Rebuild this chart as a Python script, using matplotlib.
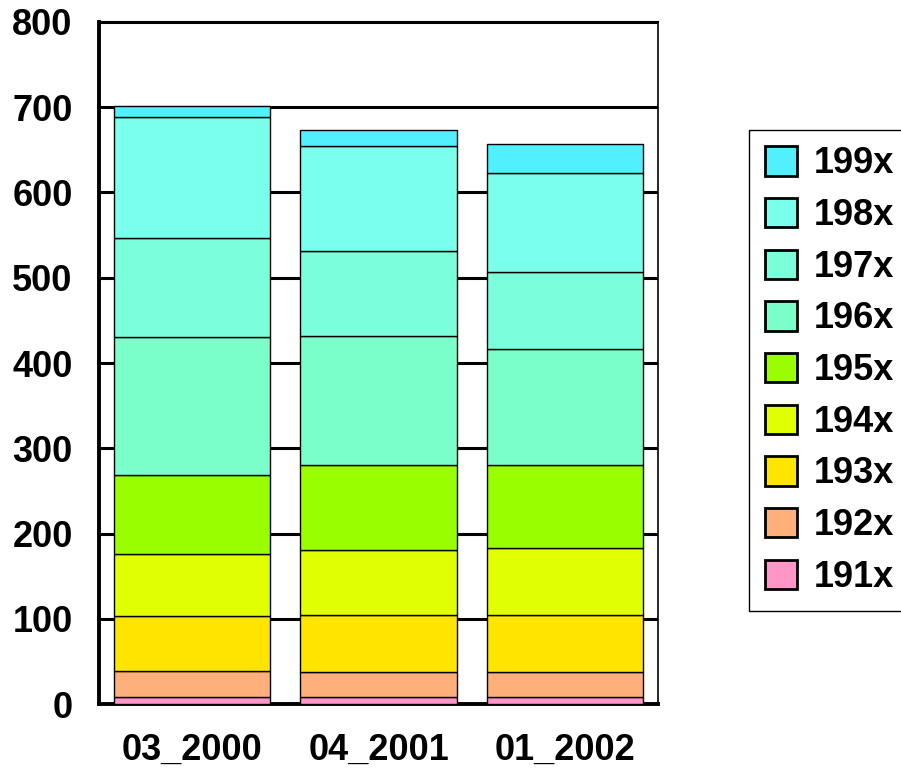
import numpy as np
import matplotlib.pyplot as plt

# survey periods and age groups (decades)
periods = ['03_2000', '04_2001', '01_2002']
groups = ['191x', '192x', '193x', '194x', '195x', '196x', '197x', '198x', '199x']

# values per group, one entry per period
v191 = [8, 8, 8]
v192 = [31, 30, 29]
v193 = [64, 67, 67]
v194 = [73, 76, 79]
v195 = [93, 99, 97]
v196 = [162, 152, 137]
v197 = [116, 99, 90]
v198 = [141, 123, 116]
v199 = [13, 19, 34]

colors = ['#FF96C8', '#FFB07A', '#FFE400', '#E0FF00', '#99FF00',
          '#7AFFCA', '#7AFFDA', '#7AFFEC', '#52F0FF']

plt.rcParams['font.family'] = ['Liberation Sans', 'DejaVu Sans']
plt.rcParams['font.weight'] = 'bold'

fig = plt.figure(figsize=(9.01, 7.69), dpi=100)
ax = fig.add_axes([0.1099, 0.0845, 0.6204, 0.8869])

series = [v191, v192, v193, v194, v195, v196, v197, v198, v199]
x = np.arange(len(periods))
bottom = np.zeros(len(periods))
handles = []
for name, vals, col in zip(groups, series, colors):
    b = ax.bar(x, vals, width=0.84, bottom=bottom, color=col,
               edgecolor='black', linewidth=1, label=name, zorder=3)
    handles.append(b)
    bottom += np.array(vals)

ax.set_xlim(-0.5, 2.5)
ax.set_ylim(0, 800)
ax.set_yticks(range(0, 801, 100))
ax.set_xticks(x)
ax.set_xticklabels(periods)
ax.yaxis.grid(True, color='black', linewidth=2.2, zorder=0)
ax.tick_params(axis='both', length=0, labelsize=26)
ax.tick_params(axis='y', pad=19)
ax.tick_params(axis='x', pad=21)
for lab in ax.get_xticklabels() + ax.get_yticklabels():
    lab.set_fontweight('bold')

ax.spines['left'].set_linewidth(2.8)
ax.spines['bottom'].set_linewidth(2.8)
ax.spines['top'].set_linewidth(1.5)
ax.spines['right'].set_linewidth(1.2)

leg = fig.legend(handles[::-1], groups[::-1], loc='upper left',
                 bbox_to_anchor=(749 / 901, 1 - 130 / 769),
                 prop={'size': 26, 'weight': 'bold'},
                 handlelength=0.88, handleheight=0.88, handletextpad=0.45,
                 labelspacing=0.455, borderpad=0.45, borderaxespad=0,
                 fancybox=False, edgecolor='black', framealpha=1)
leg.get_frame().set_linewidth(1)
for p in leg.get_patches():
    p.set_linewidth(2)

fig.savefig('out.png', dpi=100)
